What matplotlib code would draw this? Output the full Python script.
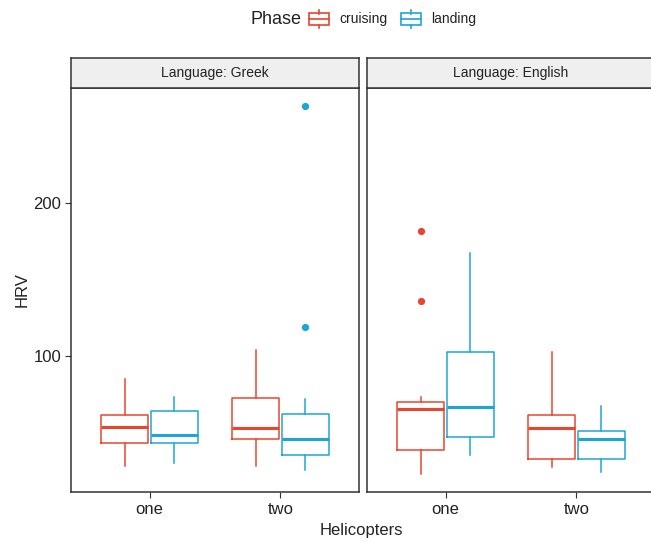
"""Boxplots of HRV by helicopter count and flight phase, faceted by language."""

import matplotlib

matplotlib.use("Agg")
import matplotlib.pyplot as plt
from matplotlib.lines import Line2D
from matplotlib.patches import Rectangle

plt.rcParams["font.family"] = ["Liberation Sans", "DejaVu Sans"]

# five-number summaries per helicopter level: whisker low, Q1, median, Q3, whisker high
helicopters = ["one", "two"]
languages = ["Greek", "English"]
phases = ["cruising", "landing"]

greek_cruising = [[28.2, 43.5, 54.0, 61.4, 85.2], [28.2, 45.7, 53.3, 72.5, 103.9]]
greek_landing = [[30.4, 43.5, 48.3, 64.2, 73.2], [25.6, 35.4, 45.7, 62.3, 71.8]]
english_cruising = [[23.4, 38.7, 65.5, 70.1, 73.6], [27.8, 32.8, 52.9, 61.4, 102.8]]
english_landing = [[35.4, 47.2, 66.9, 102.6, 167.5], [24.5, 32.8, 45.7, 50.9, 67.5]]

greek_cruising_out = [[], []]
greek_landing_out = [[], [119, 263]]
english_cruising_out = [[136, 182], []]
english_landing_out = [[], []]

summaries = {
    ("Greek", "cruising"): (greek_cruising, greek_cruising_out),
    ("Greek", "landing"): (greek_landing, greek_landing_out),
    ("English", "cruising"): (english_cruising, english_cruising_out),
    ("English", "landing"): (english_landing, english_landing_out),
}

colors = {"cruising": "#E8462F", "landing": "#1EA5D6"}
dodge = {"cruising": -0.19, "landing": 0.19}
BOX_W = 0.36

W, H = 651, 541
fig = plt.figure(figsize=(W / 100, H / 100), dpi=100)


def fx(px):
    return px / W


def fy(py):
    return 1 - py / H


# shared y range: data extent plus 5% on each side
all_vals = []
for stats, outs in summaries.values():
    for s, o in zip(stats, outs):
        all_vals += s + o
lo, hi = min(all_vals), max(all_vals)
pad = 0.05 * (hi - lo)
ylim = (lo - pad, hi + pad)

panel_left = [71, 367]
panel_w = 288
panel_top, panel_bot = 88, 492
strip_top = 58

for i, lang in enumerate(languages):
    x0 = panel_left[i]
    ax = fig.add_axes([fx(x0), fy(panel_bot), fx(panel_w), (panel_bot - panel_top) / H])
    for phase in phases:
        stats, outs = summaries[(lang, phase)]
        bxp_stats = [
            dict(whislo=s[0], q1=s[1], med=s[2], q3=s[3], whishi=s[4], fliers=o)
            for s, o in zip(stats, outs)
        ]
        pos = [j + 1 + dodge[phase] for j in range(len(helicopters))]
        c = colors[phase]
        ax.bxp(
            bxp_stats,
            positions=pos,
            widths=BOX_W,
            showcaps=False,
            boxprops=dict(color=c, lw=1.1),
            whiskerprops=dict(color=c, lw=1.1),
            medianprops=dict(color=c, lw=2.2),
            flierprops=dict(marker="o", markerfacecolor=c, markeredgecolor=c,
                            markersize=4.2),
            manage_ticks=False,
        )
    ax.set_xlim(0.4, 2.6)
    ax.set_ylim(*ylim)
    ax.set_xticks([1, 2])
    ax.set_xticklabels(helicopters, fontsize=12, color="#222222")
    ax.set_yticks([100, 200])
    ax.tick_params(axis="both", direction="out", length=4, width=0.8,
                   color="#333333", labelsize=12, labelcolor="#222222", pad=3)
    if i > 0:
        ax.tick_params(axis="y", left=False, labelleft=False)
    for sp in ax.spines.values():
        sp.set_color("#333333")
        sp.set_linewidth(1.1)

    # facet strip
    sx = fig.add_axes([fx(x0), fy(panel_top), fx(panel_w), (panel_top - strip_top) / H])
    sx.set_facecolor("#EFEFEF")
    sx.set_xticks([])
    sx.set_yticks([])
    for sp in sx.spines.values():
        sp.set_color("#333333")
        sp.set_linewidth(1.1)
    sx.text(0.5, 0.5, f"Language: {lang}", ha="center", va="center",
            fontsize=10, color="#222222", transform=sx.transAxes)

fig.text(fx(22), fy(290), "HRV", rotation=90, ha="center", va="center",
         fontsize=12, color="#222222")
fig.text(fx(361), fy(530), "Helicopters", ha="center", va="center",
         fontsize=12, color="#222222")

# legend along the top
fig.text(fx(250), fy(19), "Phase", ha="left", va="center", fontsize=13,
         color="#222222")


def draw_key(x, color):
    top, bt = 13.5, 24.5
    kw = dict(color=color, lw=1.2, transform=fig.transFigure)
    fig.add_artist(Rectangle((fx(x), fy(bt)), fx(20), (bt - top) / H,
                             fill=False, edgecolor=color, lw=1.2,
                             transform=fig.transFigure))
    fig.add_artist(Line2D([fx(x), fx(x + 20)], [fy(19), fy(19)], **kw))
    fig.add_artist(Line2D([fx(x + 10)] * 2, [fy(10), fy(top)], **kw))
    fig.add_artist(Line2D([fx(x + 10)] * 2, [fy(bt), fy(28)], **kw))


key_x = {"cruising": 309, "landing": 401}
for phase in phases:
    draw_key(key_x[phase], colors[phase])
    fig.text(fx(key_x[phase] + 30), fy(19), phase, ha="left", va="center",
             fontsize=10, color="#222222")

fig.savefig("out.png", dpi=100)
